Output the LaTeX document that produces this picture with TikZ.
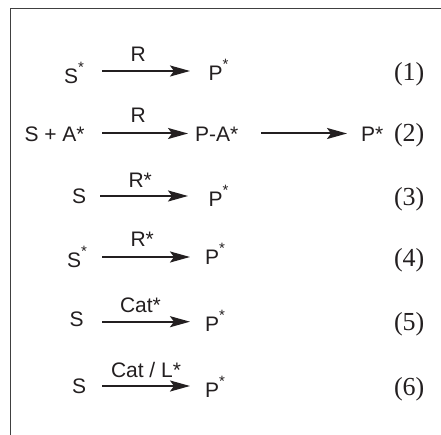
\documentclass[tikz,border=0pt]{standalone}
\usepackage{fontspec}
\setmainfont{Liberation Sans}
\newfontfamily\numfont{Liberation Serif}
\usetikzlibrary{arrows.meta}
\definecolor{ink}{HTML}{231F20}
\newcommand{\upstar}{\raisebox{11pt}{\fontsize{15}{15}\selectfont *}}
\tikzset{
  x=1pt,y=1pt,
  chem/.style={anchor=base west,inner sep=0pt,outer sep=0pt,text=ink,font=\fontsize{21}{23}\selectfont},
  eqno/.style={anchor=base west,inner sep=0pt,outer sep=0pt,text=ink,font=\numfont\fontsize{26}{27}\selectfont},
  rx/.style={draw=ink,line width=2pt,-{Stealth[length=20pt,width=11pt,inset=4pt]}},
  frameline/.style={draw=black!75,line width=1pt}
}
\begin{document}
\begin{tikzpicture}
\useasboundingbox (0,0) rectangle (441,-435);
\fill[white] (0,0) rectangle (441,-435);
\draw[frameline] (441,-9) -- (10,-9) -- (10,-435);
% row 1
\node[chem] (s1) at (64,-84) {S\upstar};
\node[chem] (r1) at (130.5,-62) {R};
\node[chem] (p1) at (208.5,-81) {P\upstar};
\node[eqno] (n1) at (394,-81) {(1)};
\draw[rx] ([shift={(38,13)}]s1.base west) -- ([shift={(-18.5,10)}]p1.base west);
% row 2
\node[chem] (s2) at (24.5,-141.5) {S + A*};
\node[chem] (r2) at (130.5,-123) {R};
\node[chem] (m2) at (195,-141.5) {P-A*};
\node[chem] (p2) at (361,-141.5) {P*};
\node[eqno] (n2) at (394,-141.5) {(2)};
\draw[rx] ([shift={(77.5,8)}]s2.base west) -- ([shift={(-7,8)}]m2.base west);
\draw[rx] ([shift={(66,8)}]m2.base west) -- ([shift={(-14,8)}]p2.base west);
% row 3
\node[chem] (s3) at (72,-204) {S};
\node[chem] (r3) at (128.5,-187.5) {R*};
\node[chem] (p3) at (208.5,-206.5) {P\upstar};
\node[eqno] (n3) at (394,-205.5) {(3)};
\draw[rx] ([shift={(28,8)}]s3.base west) -- ([shift={(-20.5,10.5)}]p3.base west);
% row 4
\node[chem] (s4) at (67,-268) {S\upstar};
\node[chem] (r4) at (130.5,-246.5) {R*};
\node[chem] (p4) at (205,-265) {P\upstar};
\node[eqno] (n4) at (394,-266) {(4)};
\draw[rx] ([shift={(35,11)}]s4.base west) -- ([shift={(-15,8)}]p4.base west);
% row 5
\node[chem] (s5) at (69.5,-326) {S};
\node[chem] (r5) at (120,-312) {Cat*};
\node[chem] (p5) at (205,-331) {P\upstar};
\node[eqno] (n5) at (394,-330) {(5)};
\draw[rx] ([shift={(32.5,4.3)}]s5.base west) -- ([shift={(-15,9.3)}]p5.base west);
% row 6
\node[chem] (s6) at (72,-393) {S};
\node[chem] (r6) at (111,-377) {Cat / L*};
\node[chem] (p6) at (205,-397) {P\upstar};
\node[eqno] (n6) at (394,-395.5) {(6)};
\draw[rx] ([shift={(30,7)}]s6.base west) -- ([shift={(-15,11)}]p6.base west);
\end{tikzpicture}
\end{document}
